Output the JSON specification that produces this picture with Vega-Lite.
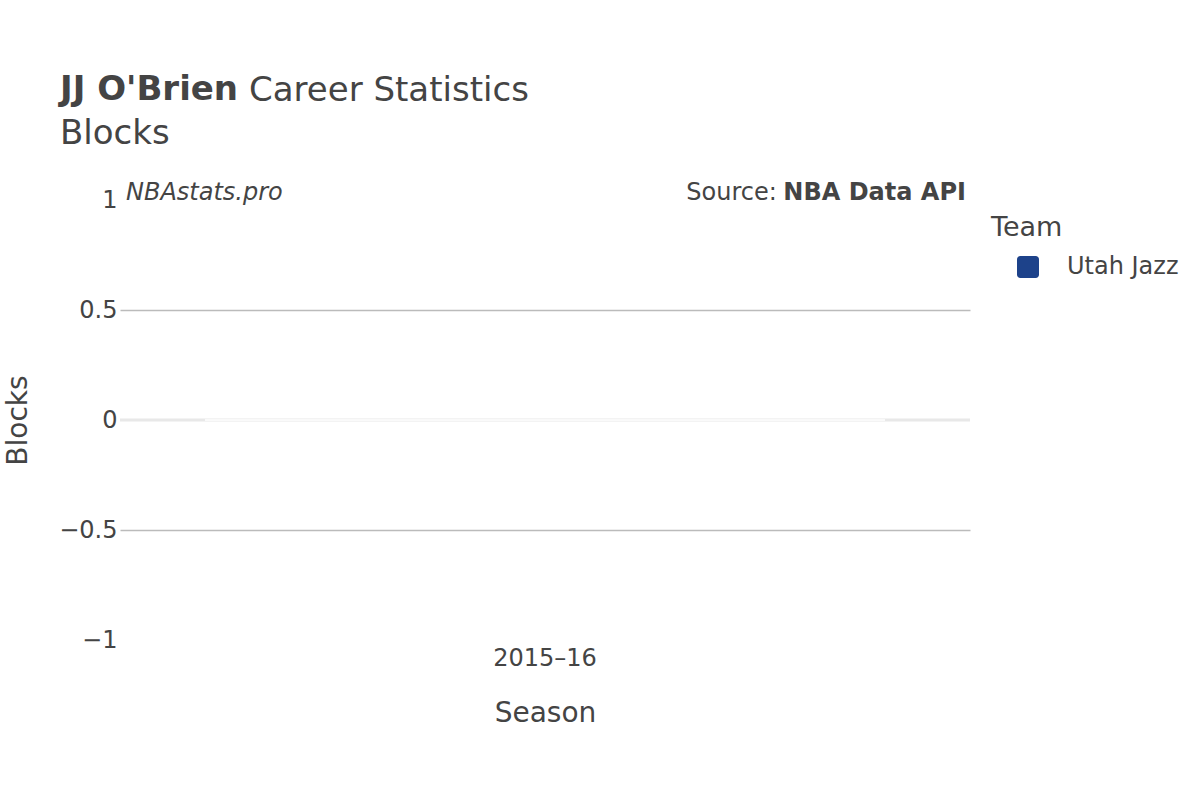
{
  "$schema": "https://vega.github.io/schema/vega-lite/v6.json",
  "autosize": {"type": "none"},
  "width": 850,
  "height": 440,
  "padding": {"left": 120, "top": 200, "right": 230, "bottom": 160},
  "background": "white",
  "title": {
    "text": "JJ O'Brien",
    "subtitle": "Blocks",
    "anchor": "start",
    "frame": "group",
    "dx": -60,
    "fontSize": 34,
    "fontWeight": "bold",
    "color": "#444",
    "subtitleFontSize": 34,
    "subtitleFontWeight": "normal",
    "subtitleColor": "#444",
    "subtitlePadding": 10,
    "offset": -77
  },
  "data": {
    "values": [
      {"season": "2015–16", "team": "Utah Jazz", "blocks": 0}
    ]
  },
  "encoding": {
    "x": {
      "field": "season",
      "type": "nominal",
      "title": "Season",
      "scale": {"paddingInner": 0.2, "paddingOuter": 0.1},
      "axis": {
        "labelAngle": 0,
        "labelFontSize": 24,
        "labelPadding": 6,
        "titleFontSize": 28,
        "titlePadding": 29,
        "titleFontWeight": "normal",
        "ticks": false,
        "domain": false
      }
    }
  },
  "layer": [
    {
      "mark": {"type": "rule", "color": "#e8e8e8", "strokeWidth": 3},
      "encoding": {
        "x": {"value": 0},
        "x2": {"value": 850},
        "y": {"datum": 0, "type": "quantitative"}
      }
    },
    {
      "mark": {"type": "bar", "stroke": "white", "strokeWidth": 1},
      "encoding": {
        "y": {
          "field": "blocks",
          "type": "quantitative",
          "title": "Blocks",
          "scale": {"domain": [-1, 1], "nice": false, "zero": false},
          "axis": {
            "values": [-1, -0.5, 0, 0.5, 1],
            "format": "~g",
            "labelFontSize": 24,
            "labelPadding": 3,
            "ticks": false,
            "domain": false,
            "grid": true,
            "gridWidth": 1.5,
            "gridColor": {"condition": {"test": "abs(datum.value) == 1 || datum.value == 0", "value": "transparent"}, "value": "#bbbbbb"},
            "titleFontSize": 28,
            "titleFontWeight": "normal",
            "titlePadding": 26
          }
        },
        "color": {
          "field": "team",
          "type": "nominal",
          "title": "Team",
          "scale": {"domain": ["Utah Jazz"], "range": ["#1D428A"]},
          "legend": {
            "orient": "none",
            "legendX": 871,
            "legendY": 15,
            "padding": 0,
            "titleFontSize": 27,
            "titleFontWeight": "normal",
            "titlePadding": 13,
            "labelFontSize": 24,
            "labelOffset": 27,
            "symbolOffset": 25,
            "symbolSize": 484,
            "symbolType": "M-0.7,-1L0.7,-1A0.3,0.3 0 0 1 1,-0.7L1,0.7A0.3,0.3 0 0 1 0.7,1L-0.7,1A0.3,0.3 0 0 1 -1,0.7L-1,-0.7A0.3,0.3 0 0 1 -0.7,-1Z",
            "symbolStrokeWidth": 0
          }
        }
      }
    },
    {
      "mark": {"type": "text", "text": "Career Statistics", "align": "left", "baseline": "alphabetic", "fontSize": 34, "color": "#444"},
      "encoding": {
        "x": {"datum": "2015–16", "bandPosition": 0.0647},
        "y": {"datum": 1.4495, "type": "quantitative"}
      }
    },
    {
      "mark": {"type": "text", "text": "NBAstats.pro", "align": "left", "baseline": "alphabetic", "fontSize": 24, "fontStyle": "italic", "color": "#444"},
      "encoding": {
        "x": {"datum": "2015–16", "bandPosition": -0.1162},
        "y": {"datum": 1, "type": "quantitative"}
      }
    },
    {
      "mark": {"type": "text", "text": "Source:", "align": "right", "baseline": "alphabetic", "fontSize": 24, "color": "#444"},
      "encoding": {
        "x": {"datum": "2015–16", "bandPosition": 0.841},
        "y": {"datum": 1, "type": "quantitative"}
      }
    },
    {
      "mark": {"type": "text", "text": "NBA Data API", "align": "right", "baseline": "alphabetic", "fontSize": 24, "fontWeight": "bold", "color": "#444"},
      "encoding": {
        "x": {"datum": "2015–16", "bandPosition": 1.119},
        "y": {"datum": 1, "type": "quantitative"}
      }
    }
  ],
  "config": {
    "font": "DejaVu Sans",
    "view": {"stroke": null},
    "axis": {"labelColor": "#444", "titleColor": "#444"},
    "legend": {"labelColor": "#444", "titleColor": "#444"}
  }
}
